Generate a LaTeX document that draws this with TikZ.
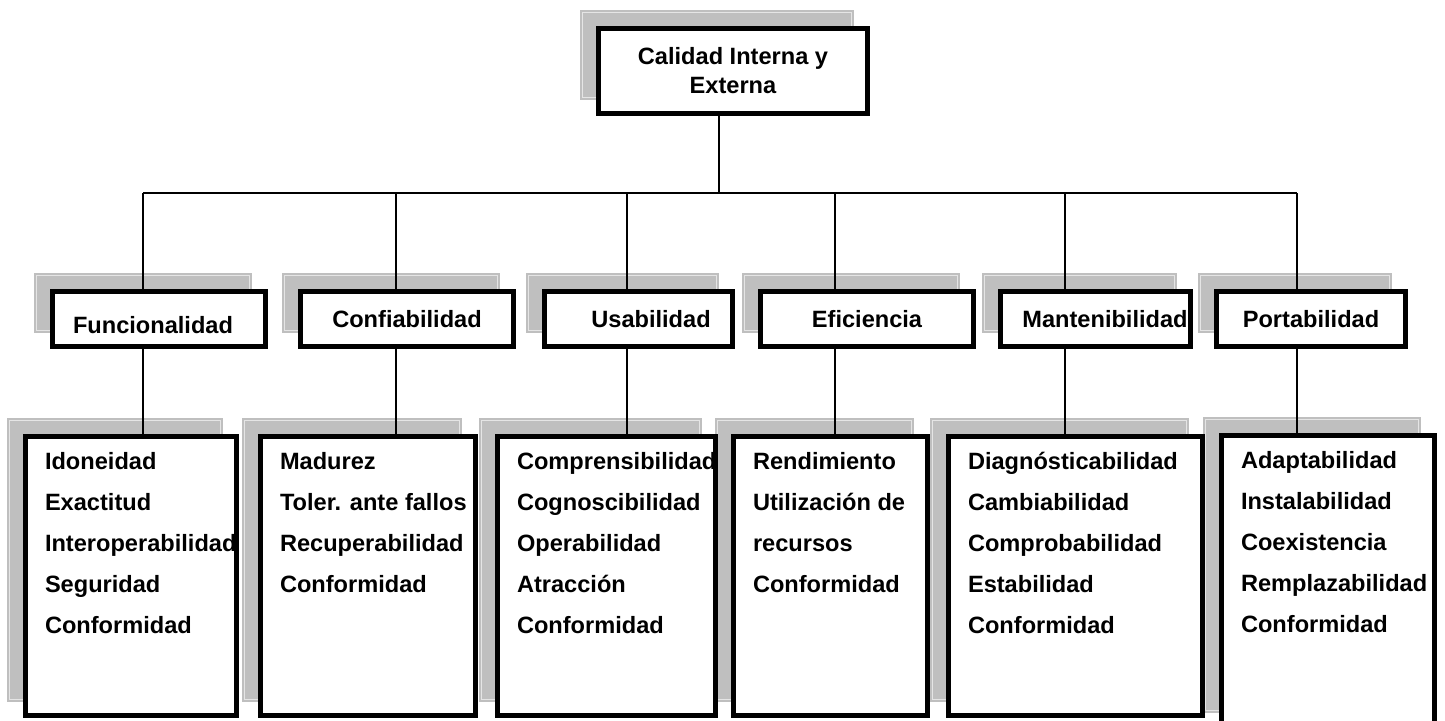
\documentclass[tikz,border=0pt]{standalone}
\usepackage{fontspec}
\setmainfont{Liberation Sans}
\usetikzlibrary{shadows}
\definecolor{shadowgray}{gray}{0.75}
\definecolor{shadowlight}{gray}{0.9}
\tikzset{
	every node/.style={font=\bfseries\fontsize{23.6}{29}\selectfont},
	gshadow/.style={drop shadow={shadow xshift=-16pt, shadow yshift=16pt, opacity=1,
		fill=shadowgray, draw=shadowgray, double=shadowlight, double distance=0.8pt, line width=2.1pt}},
}
\begin{document}
\begin{tikzpicture}[
		x=1pt,
		y=-1pt,
		catbox/.style={draw, line width=5pt, fill=white, inner sep=0pt, minimum height=55pt, align=center, gshadow},
		listbox/.style={fill=white, inner sep=0pt, gshadow},
		edge/.style={line width=5pt},
		link/.style={line width=1.5pt},
		items/.style={anchor=north west, inner sep=0pt, align=left, font=\bfseries\fontsize{23.6}{41}\selectfont},
	]
		\useasboundingbox (0,0) rectangle (1445,720);
		
		\node[catbox, minimum width=269pt, minimum height=85pt] (top) at (733,71) {Calidad Interna y\\Externa};
		
		\foreach \n/\x/\w/\t in {func/159/213/{\rule{0pt}{29pt}Funcionalidad\hspace*{12pt}}, conf/407/213/Confiabilidad,
			usa/638.5/188/{\hspace*{25pt}Usabilidad}, efi/867/213/Eficiencia,
			mant/1095.5/190/{\hspace*{19pt}Mantenibilidad}, port/1311/189/Portabilidad}{
			\node[catbox, minimum width=\w pt] (\n) at (\x,319) {\t};
		}
		
		\foreach \n/\x/\w/\y/\h in {func/131/211/576/279, conf/368/215/576/279, usa/606.5/218/576/279,
			efi/830.5/194/576/279, mant/1075.5/254/576/279, port/1328/213/581/291}{
			\node[listbox, minimum width=\w pt, minimum height=\h pt] (\n-l) at (\x,\y) {};
		}
		
		\foreach \n/\t in {func/{Idoneidad\\Exactitud\\Interoperabilidad\\Seguridad\\Conformidad},
			conf/{Madurez\\Toler. ante fallos\\Recuperabilidad\\Conformidad},
			usa/{Comprensibilidad\\Cognoscibilidad\\Operabilidad\\Atracción\\Conformidad},
			efi/{Rendimiento\\Utilización de\\recursos\\Conformidad},
			mant/{Diagnósticabilidad\\Cambiabilidad\\Comprobabilidad\\Estabilidad\\Conformidad},
			port/{Adaptabilidad\\Instalabilidad\\Coexistencia\\Remplazabilidad\\Conformidad}}{
			\node[items] (\n-t) at ([shift={(19.5,15.5)}]\n-l.north west) {\t};
			\draw[edge] (\n-l.north west) rectangle (\n-l.south east);
		}
		
		\coordinate (hub) at (719,193);
		\draw[link] (hub |- top.south) -- (hub);
		\foreach \n/\x in {func/143, conf/396, usa/627, efi/835, mant/1065, port/1297}{
			\coordinate (\n-b) at (\x,193);
			\draw[link] (\n-b) -- (\n-b |- \n.north);
			\draw[link] (\n-b |- \n.south) -- (\n-b |- \n-l.north);
		}
		\draw[link] (func-b) -- (port-b);
	\end{tikzpicture}
\end{document}
